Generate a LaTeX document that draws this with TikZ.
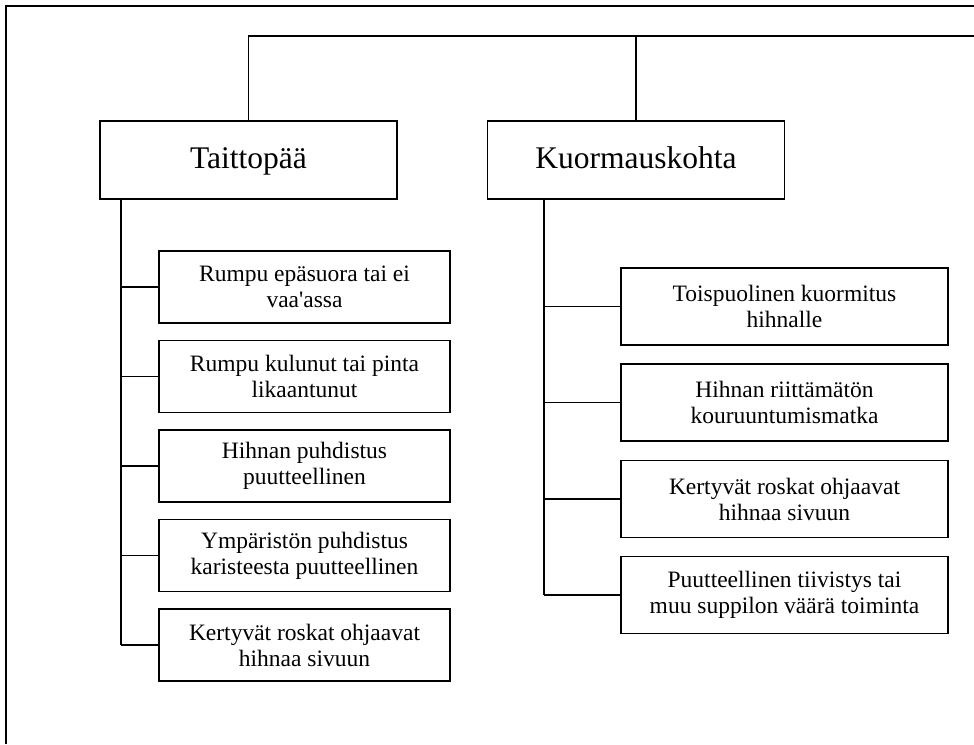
\documentclass[tikz,border=0pt]{standalone}
\usepackage{fontspec}
\setmainfont{Liberation Serif}
\begin{document}
\begin{tikzpicture}[x=1pt,y=-1pt,
    head/.style={draw,line width=1.4pt,minimum width=297pt,minimum height=78pt,
      inner sep=0pt,text height=22pt,text depth=6pt,font=\fontsize{31.5}{36}\selectfont},
    causeL/.style={draw,line width=1.4pt,minimum width=291pt,minimum height=72pt,
      inner sep=0pt,align=center,font=\fontsize{23.5}{26}\selectfont},
    causeR/.style={causeL,minimum width=327pt,minimum height=77pt},
    link/.style={line width=1.4pt}]
    \useasboundingbox (0,0) rectangle (974,744);
    % frame, cut off at right and bottom
    \draw[line width=2pt] (6,744)--(6,6)--(974,6);
    \begin{scope}[shift={(0,0)}]
      \node[head] (taitto) at (248.5,160) {Taittopää};
      \node[head] (kuorma) at (636,160) {Kuormauskohta};
      \coordinate (topR) at (974,36);
      \coordinate (trunkT) at (121,0);
      \coordinate (trunkK) at (544,0);
      \node[causeL] (t1) at (304.5,287) {Rumpu epäsuora tai ei\\vaa\textquotesingle assa};
      \node[causeL] (t2) at (304.5,376.5) {Rumpu kulunut tai pinta\\likaantunut};
      \node[causeL] (t3) at (304.5,466) {Hihnan puhdistus\\puutteellinen};
      \node[causeL] (t4) at (304.5,555.5) {Ympäristön puhdistus\\karisteesta puutteellinen};
      \node[causeL] (t5) at (304.5,645) {Kertyvät roskat ohjaavat\\hihnaa sivuun};
      \node[causeR] (k1) at (784.5,306.5) {Toispuolinen kuormitus\\hihnalle};
      \node[causeR] (k2) at (784.5,402.5) {Hihnan riittämätön\\kouruuntumismatka};
      \node[causeR] (k3) at (784.5,499) {Kertyvät roskat ohjaavat\\hihnaa sivuun};
      \node[causeR] (k4) at (784.5,595) {Puutteellinen tiivistys tai\\muu suppilon väärä toiminta};
      \draw[link](taitto.north)|-(topR);
      \draw[link](kuorma.north)--(kuorma.north|-topR);
      \draw[link](taitto.south-|trunkT)--(trunkT|-t5.west);
      \draw[link](kuorma.south-|trunkK)--(trunkK|-k4.west);
      \foreach \n in {t1,t2,t3,t4,t5}
        \draw[link](trunkT|-\n.west)--(\n.west);
      \foreach \n in {k1,k2,k3,k4}
        \draw[link](trunkK|-\n.west)--(\n.west);
    \end{scope}
\end{tikzpicture}
\end{document}
